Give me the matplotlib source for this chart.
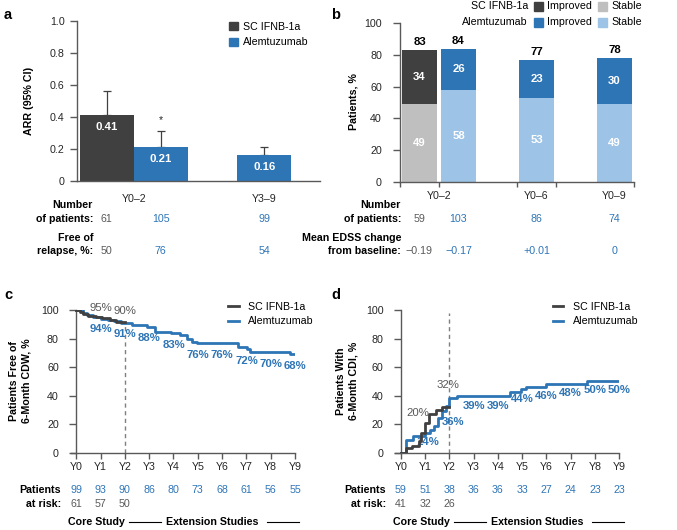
import numpy as np
import matplotlib.pyplot as plt
from matplotlib.transforms import blended_transform_factory
from matplotlib.patches import Patch, Rectangle
from matplotlib.lines import Line2D

plt.rcParams['font.family'] = ['Liberation Sans', 'DejaVu Sans']

W, H = 677, 530
DARK = '#404040'
BLUE = '#2E75B6'
LGRAY = '#BFBFBF'
LBLUE = '#9DC3E6'
GTXT = '#595959'
AXC = '#595959'
FS = 7.7

# ---- panel a: ARR ----
a_sc_arr = [0.41]
a_sc_hi = [0.56]
a_ale_arr = [0.21, 0.16]
a_ale_hi = [0.31, 0.21]
a_groups = ['Y0–2', 'Y3–9']
a_n_sc = [61]
a_n_ale = [105, 99]
a_free_sc = [50]
a_free_ale = [76, 54]

# ---- panel b: EDSS improved / stable ----
b_groups = ['Y0–2', 'Y0–6', 'Y0–9']
b_sc_stable = [49]
b_sc_improved = [34]
b_sc_total = [83]
b_ale_stable = [58, 53, 49]
b_ale_improved = [26, 23, 30]
b_ale_total = [84, 77, 78]
b_n_sc = [59]
b_n_ale = [103, 86, 74]
b_edss_sc = ['−0.19']
b_edss_ale = ['−0.17', '+0.01', '0']

# ---- panel c: free of 6-month CDW ----
years = list(range(10))
year_labels = [f'Y{y}' for y in years]
c_sc_t = [0, 0.15, 0.3, 0.5, 0.8, 1.05, 1.4, 1.65, 2.0]
c_sc_v = [100, 98.5, 97, 96, 95, 94.5, 93, 91.5, 91.5]
c_ale_t = [0, 0.3, 0.45, 0.7, 1.0, 1.3, 1.55, 1.85, 2.3, 2.9, 3.25, 3.9, 4.27, 4.55,
           4.75, 4.96, 6.67, 7.01, 7.15, 8.8, 9.0]
c_ale_v = [100, 98, 96.5, 95, 94, 93, 92, 91, 89.5, 88.3, 84.8, 83.6, 82.5, 80,
           77.8, 76.6, 74.3, 72.4, 70.3, 69, 69]
c_pct_sc = [95, 90]
c_pct_ale = [94, 91, 88, 83, 76, 76, 72, 70, 68]
c_risk_ale = [99, 93, 90, 86, 80, 73, 68, 61, 56, 55]
c_risk_sc = [61, 57, 50]

# ---- panel d: 6-month CDI ----
d_sc_t = [0, 0.2, 0.45, 0.75, 0.85, 1.0, 1.15, 1.45, 1.7, 2.0]
d_sc_v = [0, 3, 5, 8, 14, 21, 27, 30, 32, 32]
d_ale_t = [0, 0.22, 0.5, 1.0, 1.2, 1.35, 1.55, 1.7, 1.85, 2.0, 2.3, 4.5, 4.95, 5.15,
           6.0, 7.65, 9.0]
d_ale_v = [0, 9, 12, 13.5, 16, 19, 24, 29, 33, 38, 39.7, 42.8, 44.4, 46, 48, 50, 50]
d_pct_sc = [20, 32]
d_pct_ale = [14, 36, 39, 39, 44, 46, 48, 50, 50]
d_risk_ale = [59, 51, 38, 36, 36, 33, 27, 24, 23, 23]
d_risk_sc = [41, 32, 26]


def box(l, t, r, b):
    return [l / W, 1 - b / H, (r - l) / W, (b - t) / H]


def fy(py):
    return 1 - py / H


def fx(px):
    return px / W


def style_axis(ax, ylabpad=4):
    for s in ['top', 'right']:
        ax.spines[s].set_visible(False)
    for s in ['left', 'bottom']:
        ax.spines[s].set_color(AXC)
        ax.spines[s].set_linewidth(1.0)
    ax.tick_params(axis='both', colors=AXC, labelcolor='#262626', labelsize=FS,
                   direction='out', width=1.0)
    ax.tick_params(axis='y', length=5, pad=ylabpad)


fig = plt.figure(figsize=(W / 100, H / 100), dpi=100)

# ================= panel a =================
axa = fig.add_axes(box(77, 21, 320, 181))
style_axis(axa)
x_sc = [0.55]
x_ale = [1.55, 3.47]
axa.bar(x_sc, a_sc_arr, width=1.0, color=DARK, zorder=2)
axa.bar(x_ale, a_ale_arr, width=1.0, color=BLUE, zorder=2)
for x, v, hi in zip(x_sc + x_ale, a_sc_arr + a_ale_arr, a_sc_hi + a_ale_hi):
    axa.errorbar(x, v, yerr=[[0], [hi - v]], fmt='none', ecolor=DARK, elinewidth=0.9,
                 capsize=3, capthick=0.9, zorder=1)
    axa.text(x, v - 0.075, f'{v:.2f}', color='white', fontsize=FS + 0.5,
             fontweight='bold', ha='center', va='center', zorder=3)
axa.text(x_ale[0], a_ale_hi[0] + 0.07, '*', ha='center', va='center', fontsize=FS,
         color='#262626')
axa.set_xlim(0, 4.5)
axa.set_ylim(0, 1.0)
axa.set_yticks([0, 0.2, 0.4, 0.6, 0.8, 1.0])
axa.set_yticklabels(['0', '0.2', '0.4', '0.6', '0.8', '1.0'])
axa.set_xticks([1.05, 3.47])
axa.set_xticklabels(a_groups)
axa.tick_params(axis='x', length=0, pad=9)
fig.text(fx(29), fy(101), 'ARR (95% CI)', rotation=90, ha='center', va='center',
         fontsize=FS, fontweight='bold')
axa.legend(handles=[Patch(color=DARK, label='SC IFNB-1a'),
                    Patch(color=BLUE, label='Alemtuzumab')],
           loc='upper left', bbox_to_anchor=(fx(229), fy(22)),
           bbox_transform=fig.transFigure, frameon=False, fontsize=FS,
           handlelength=0.8, handleheight=0.8, handletextpad=0.55,
           labelspacing=0.5, borderpad=0, borderaxespad=0)
ta = blended_transform_factory(axa.transData, fig.transFigure)
fig.text(fx(93), fy(205), 'Number', ha='right', va='center', fontsize=FS, fontweight='bold')
fig.text(fx(93), fy(219), 'of patients:', ha='right', va='center', fontsize=FS,
         fontweight='bold')
fig.text(fx(93), fy(238), 'Free of', ha='right', va='center', fontsize=FS, fontweight='bold')
fig.text(fx(93), fy(251), 'relapse, %:', ha='right', va='center', fontsize=FS,
         fontweight='bold')
for x, n, f in zip(x_sc, a_n_sc, a_free_sc):
    axa.text(x, fy(219), str(n), transform=ta, ha='center', va='center', fontsize=FS,
             color=GTXT)
    axa.text(x, fy(251), str(f), transform=ta, ha='center', va='center', fontsize=FS,
             color=GTXT)
for x, n, f in zip(x_ale, a_n_ale, a_free_ale):
    axa.text(x, fy(219), str(n), transform=ta, ha='center', va='center', fontsize=FS,
             color=BLUE)
    axa.text(x, fy(251), str(f), transform=ta, ha='center', va='center', fontsize=FS,
             color=BLUE)

# ================= panel b =================
axb = fig.add_axes(box(400, 23.3, 634, 181.7))
style_axis(axb, ylabpad=8)
xb_sc = [0.5]
xb_ale = [1.5, 3.5, 5.5]
bw = 0.9
axb.bar(xb_sc, b_sc_stable, width=bw, color=LGRAY)
axb.bar(xb_sc, np.array(b_sc_total) - np.array(b_sc_stable), bottom=b_sc_stable,
        width=bw, color=DARK)
axb.bar(xb_ale, b_ale_stable, width=bw, color=LBLUE)
axb.bar(xb_ale, np.array(b_ale_total) - np.array(b_ale_stable), bottom=b_ale_stable,
        width=bw, color=BLUE)
for xs, st, im, tot in [(xb_sc, b_sc_stable, b_sc_improved, b_sc_total),
                        (xb_ale, b_ale_stable, b_ale_improved, b_ale_total)]:
    for x, s, i, t in zip(xs, st, im, tot):
        axb.text(x, s / 2, str(s), color='white', fontweight='bold', fontsize=FS + 0.5,
                 ha='center', va='center')
        axb.text(x, (s + t) / 2, str(i), color='white', fontweight='bold',
                 fontsize=FS + 0.5, ha='center', va='center')
        axb.text(x, t + 5, str(t), color='black', fontweight='bold', fontsize=FS + 0.5,
                 ha='center', va='center')
axb.set_xlim(0, 6)
axb.set_ylim(0, 100)
axb.set_yticks([0, 20, 40, 60, 80, 100])
axb.set_xticks([0, 1, 3, 4, 6])
axb.set_xticklabels(['', '', '', '', ''])
axb.tick_params(axis='x', length=3.5)
tb_lab = blended_transform_factory(axb.transData, fig.transFigure)
for x, g in zip([1.0, 3.5, 5.5], b_groups):
    axb.text(x, fy(196), g, transform=tb_lab, ha='center', va='center', fontsize=FS,
             color='#262626')
fig.text(fx(353), fy(102), 'Patients, %', rotation=90, ha='center', va='center',
         fontsize=FS, fontweight='bold')
# legend b (manual)
for row_y, lab, c_imp, c_st in [(6, 'SC IFNB-1a', DARK, LGRAY),
                                (22, 'Alemtuzumab', BLUE, LBLUE)]:
    fig.text(fx(528), fy(row_y), lab, ha='right', va='center', fontsize=FS)
    fig.patches.append(Rectangle((fx(534), fy(row_y + 4.5)), 9 / W, 9 / H,
                                 transform=fig.transFigure, color=c_imp))
    fig.text(fx(547), fy(row_y), 'Improved', ha='left', va='center', fontsize=FS)
    fig.patches.append(Rectangle((fx(598), fy(row_y + 4.5)), 9 / W, 9 / H,
                                 transform=fig.transFigure, color=c_st))
    fig.text(fx(611), fy(row_y), 'Stable', ha='left', va='center', fontsize=FS)
fig.text(fx(401), fy(205), 'Number', ha='right', va='center', fontsize=FS, fontweight='bold')
fig.text(fx(401), fy(219), 'of patients:', ha='right', va='center', fontsize=FS,
         fontweight='bold')
fig.text(fx(401), fy(238), 'Mean EDSS change', ha='right', va='center', fontsize=FS,
         fontweight='bold')
fig.text(fx(401), fy(251), 'from baseline:', ha='right', va='center', fontsize=FS,
         fontweight='bold')
for x, n, e in zip(xb_sc, b_n_sc, b_edss_sc):
    axb.text(x, fy(219), str(n), transform=tb_lab, ha='center', va='center',
             fontsize=FS, color=GTXT)
    axb.text(x, fy(251), e, transform=tb_lab, ha='center', va='center', fontsize=FS,
             color=GTXT)
for x, n, e in zip(xb_ale, b_n_ale, b_edss_ale):
    axb.text(x, fy(219), str(n), transform=tb_lab, ha='center', va='center',
             fontsize=FS, color=BLUE)
    axb.text(x, fy(251), e, transform=tb_lab, ha='center', va='center', fontsize=FS,
             color=BLUE)


# ================= panels c, d =================
def km_panel(rect, x0px, sc_t, sc_v, ale_t, ale_v, risk_ale, risk_sc, dash_top,
             ylab, ylab_x):
    ax = fig.add_axes(rect)
    style_axis(ax, ylabpad=7.5)
    ax.spines['left'].set_position(('data', 0))
    ax.plot(sc_t, sc_v, drawstyle='steps-post', color=DARK, lw=2, zorder=3)
    ax.plot(ale_t, ale_v, drawstyle='steps-post', color=BLUE, lw=2, zorder=2)
    ax.plot([2, 2], [0, dash_top], color='#7f7f7f', lw=1, ls=(0, (3, 2.5)), zorder=1)
    ax.set_xlim(-0.23, 9.0)
    ax.set_ylim(0, 100)
    ax.set_yticks([0, 20, 40, 60, 80, 100])
    ax.set_xticks(years)
    ax.set_xticklabels(year_labels)
    ax.tick_params(axis='x', length=4, pad=3)
    ax.legend(handles=[Line2D([], [], color=DARK, lw=2, label='SC IFNB-1a'),
                       Line2D([], [], color=BLUE, lw=2, label='Alemtuzumab')],
              loc='upper left', bbox_to_anchor=(fx(x0px + 152), fy(302)),
              bbox_transform=fig.transFigure, frameon=False, fontsize=FS,
              handlelength=1.0, handletextpad=0.9, labelspacing=0.4,
              borderpad=0, borderaxespad=0)
    tr = blended_transform_factory(ax.transData, fig.transFigure)
    for x, n in zip(years, risk_ale):
        ax.text(x, fy(490), str(n), transform=tr, ha='center', va='center',
                fontsize=FS, color=BLUE)
    for x, n in zip(years, risk_sc):
        ax.text(x, fy(504), str(n), transform=tr, ha='center', va='center',
                fontsize=FS, color=GTXT)
    fig.text(fx(x0px - 15), fy(490), 'Patients', ha='right', va='center', fontsize=FS,
             fontweight='bold')
    fig.text(fx(x0px - 15), fy(504), 'at risk:', ha='right', va='center', fontsize=FS,
             fontweight='bold')
    # study phase footer
    fig.text(fx(x0px - 8), fy(522), 'Core Study', ha='left', va='center', fontsize=FS,
             fontweight='bold')
    fig.add_artist(Line2D([fx(x0px + 53), fx(x0px + 85)], [fy(522), fy(522)],
                          color='black', lw=0.8))
    fig.text(fx(x0px + 90), fy(522), 'Extension Studies', ha='left', va='center',
             fontsize=FS, fontweight='bold')
    fig.add_artist(Line2D([fx(x0px + 191), fx(x0px + 223)], [fy(522), fy(522)],
                          color='black', lw=0.8))
    fig.text(fx(ylab_x), fy(381), ylab, rotation=90, ha='center', va='center',
             fontsize=FS, fontweight='bold', linespacing=1.3)
    return ax


axc = km_panel(box(70.6, 310, 295, 452.7), 76, c_sc_t, c_sc_v, c_ale_t, c_ale_v,
               c_risk_ale, c_risk_sc, 91, 'Patients Free of\n6-Month CDW, %', 20)
for x, p in zip([1, 2], c_pct_sc):
    axc.text(x, 101.5 if x == 1 else 99, f'{p}%', ha='center', va='center',
             fontsize=FS + 0.5, color=GTXT)
for x, p in zip(years[1:], c_pct_ale):
    axc.text(x, p - 7.5, f'{p}%', ha='center', va='center', fontsize=FS + 0.5,
             color=BLUE, fontweight='bold')

axd = km_panel(box(395.2, 310, 619.3, 452.7), 400.7, d_sc_t, d_sc_v, d_ale_t, d_ale_v,
               d_risk_ale, d_risk_sc, 98, 'Patients With\n6-Month CDI, %', 347)
for x, y, p in zip([0.7, 1.93], [27.5, 47.5], d_pct_sc):
    axd.text(x, y, f'{p}%', ha='center', va='center', fontsize=FS + 0.5, color=GTXT,
             zorder=1)
d_lab_y = [7.7, 21.7] + [p - 6.3 for p in d_pct_ale[2:]]
d_lab_x = [1.12, 2.14] + years[3:]
for x, y, p in zip(d_lab_x, d_lab_y, d_pct_ale):
    axd.text(x, y, f'{p}%', ha='center', va='center', fontsize=FS + 0.5, color=BLUE,
             fontweight='bold', zorder=1)

# panel letters
for lx, ly, l in [(8, 15, 'a'), (336, 15, 'b'), (8, 295, 'c'), (336, 295, 'd')]:
    fig.text(fx(lx), fy(ly), l, ha='center', va='center', fontsize=10.5,
             fontweight='bold')

fig.savefig('out.png', dpi=100)
